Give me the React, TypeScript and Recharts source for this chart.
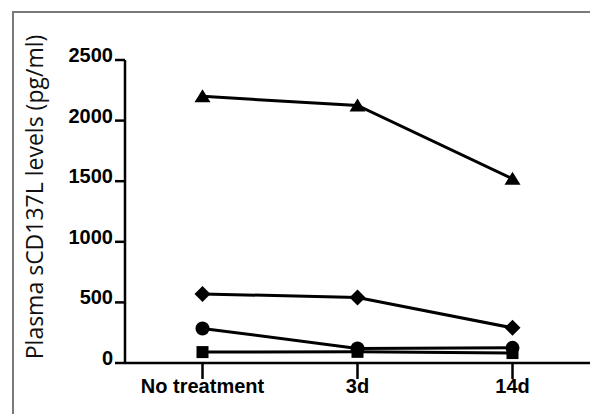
import { LineChart, Line, XAxis, YAxis, Label } from 'recharts';

const categories = ['No treatment', '3d', '14d'];
const triangleValues = [2200, 2125, 1520];
const diamondValues = [570, 540, 290];
const circleValues = [285, 120, 125];
const squareValues = [90, 92, 82];
const yTicks = [0, 500, 1000, 1500, 2000, 2500];

const data = categories.map((name, i) => ({
  name,
  tri: triangleValues[i],
  dia: diamondValues[i],
  cir: circleValues[i],
  sq: squareValues[i],
}));

const INK = '#000';
const FRAME = '#7a7a7a';
const TICK_FONT = '"Liberation Sans", Arial, sans-serif';

function TriangleDot(props: any) {
  const { cx, cy, index } = props;
  if (cx == null || cy == null) return null;
  return <path key={`t${index}`} d={`M${cx},${cy - 7} L${cx + 8},${cy + 6} L${cx - 8},${cy + 6} Z`} fill={INK} />;
}

function DiamondDot(props: any) {
  const { cx, cy, index } = props;
  if (cx == null || cy == null) return null;
  return <path key={`d${index}`} d={`M${cx},${cy - 8} L${cx + 8},${cy} L${cx},${cy + 8} L${cx - 8},${cy} Z`} fill={INK} />;
}

function CircleDot(props: any) {
  const { cx, cy, index } = props;
  if (cx == null || cy == null) return null;
  return <circle key={`c${index}`} cx={cx} cy={cy} r={7} fill={INK} />;
}

function SquareDot(props: any) {
  const { cx, cy, index } = props;
  if (cx == null || cy == null) return null;
  return <rect key={`s${index}`} x={cx - 6} y={cy - 6} width={12} height={12} fill={INK} />;
}

const YTick = ({ x, y, payload }: any) => (
  <text x={x} y={y} dy={2} textAnchor="end" fontFamily={TICK_FONT} fontWeight="bold" fontSize={20} fill={INK}>
    {payload.value}
  </text>
);

const XTick = ({ x, y, payload }: any) => (
  <text x={x} y={y} dy={14} textAnchor="middle" fontFamily={TICK_FONT} fontWeight="bold" fontSize={20} fill={INK}>
    {payload.value}
  </text>
);

export default function App() {
  return (
    <div style={{ position: 'fixed', left: 0, top: 0, width: 590, height: 414, background: '#fff', overflow: 'hidden' }}>
      <style>{'html,body{margin:0;padding:0;overflow:hidden;width:590px;height:414px}'}</style>
      {/* picture frame: only the top and left edges are in view */}
      <div style={{ position: 'absolute', left: 12, top: 11, width: 578, height: 2, background: FRAME }} />
      <div style={{ position: 'absolute', left: 12, top: 11, width: 2, height: 403, background: FRAME }} />
      <div style={{ position: 'absolute', left: 0, top: 0 }}>
        <LineChart
          width={590}
          height={414}
          data={data}
          accessibilityLayer={false}
          margin={{ top: 60, right: 0, bottom: 0, left: 0 }}
        >
          <XAxis
            dataKey="name"
            height={51}
            padding={{ left: 77.5, right: 77.5 }}
            axisLine={{ stroke: INK, strokeWidth: 2.5 }}
            tickLine={{ stroke: INK, strokeWidth: 2.5 }}
            tickSize={16}
            tickMargin={0}
            tick={<XTick />}
            interval={0}
          />
          <YAxis
            width={125}
            domain={[0, 2500]}
            ticks={yTicks}
            axisLine={{ stroke: INK, strokeWidth: 2.5 }}
            tickLine={{ stroke: INK, strokeWidth: 2.5 }}
            tickSize={10}
            tickMargin={2}
            tick={<YTick />}
          >
            <Label
              content={() => (
                <text
                  x={43}
                  y={197}
                  transform="rotate(-90, 43, 197)"
                  textAnchor="middle"
                  fontFamily='"Open Sans", sans-serif'
                  fontSize={23}
                  fill="#111"
                >
                  Plasma sCD137L levels (pg/ml)
                </text>
              )}
            />
          </YAxis>
          <Line dataKey="sq" stroke={INK} strokeWidth={3} dot={SquareDot} isAnimationActive={false} />
          <Line dataKey="cir" stroke={INK} strokeWidth={3} dot={CircleDot} isAnimationActive={false} />
          <Line dataKey="dia" stroke={INK} strokeWidth={3} dot={DiamondDot} isAnimationActive={false} />
          <Line dataKey="tri" stroke={INK} strokeWidth={3} dot={TriangleDot} isAnimationActive={false} />
        </LineChart>
      </div>
    </div>
  );
}
